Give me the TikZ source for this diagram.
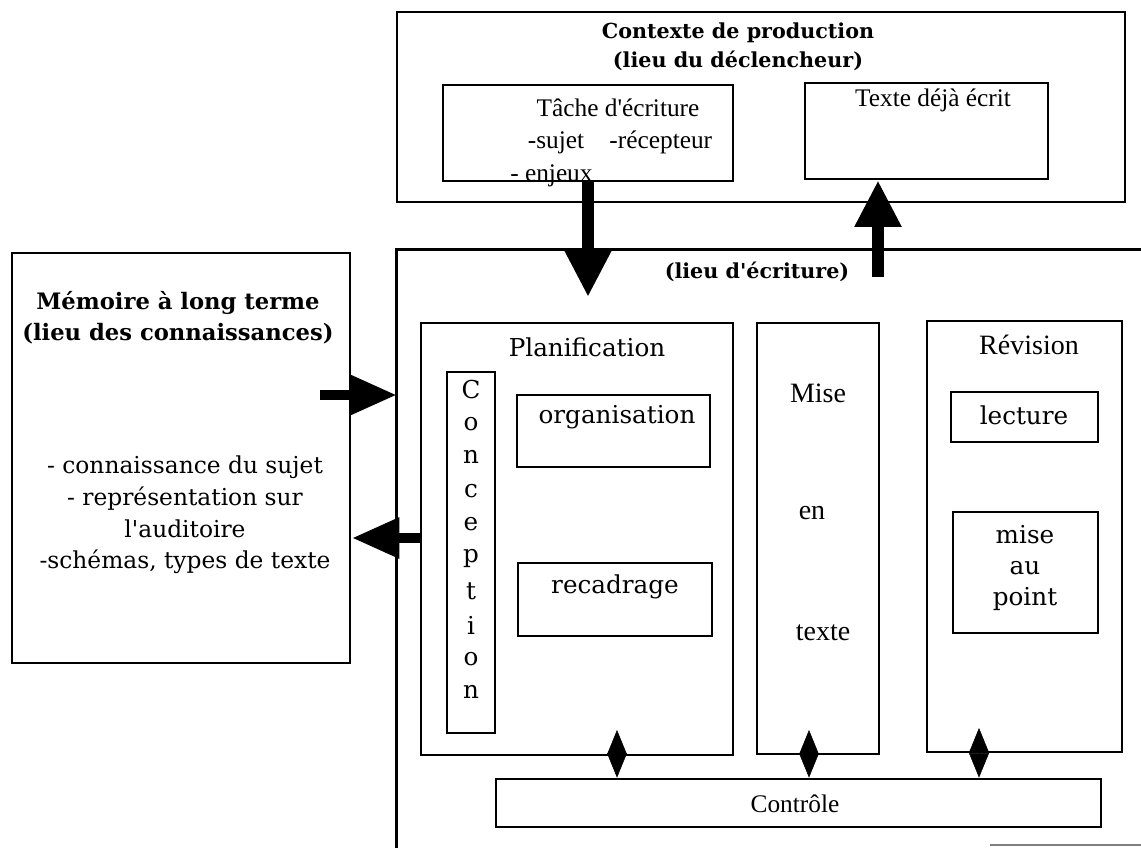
\documentclass[tikz,border=0pt]{standalone}
\usepackage{fontspec}
\setmainfont{Liberation Serif}
\newfontfamily\wideserif{DejaVu Serif}
\usetikzlibrary{arrows.meta,fit}
\tikzset{
  box/.style={
    draw,
    rectangle,
    line width=2pt,
    inner sep=0pt
  },
  lbl/.style={font=\fontsize{19}{23}\selectfont, inner sep=0pt},
  biglbl/.style={font=\fontsize{21}{25}\selectfont, inner sep=0pt},
  wlbl/.style={font=\wideserif\fontsize{18.5}{23.6}\selectfont, inner sep=0pt},
  ttl/.style={
    font=\wideserif\bfseries\fontsize{15.5}{21.75}\selectfont,
    align=center,
    inner sep=0pt
  },
  bigarrow/.style={line width=9.5pt, -{Triangle[length=35pt,width=33pt]}},
  sidearrow/.style={line width=7.5pt, -{Triangle[length=35.5pt,width=29pt]}},
  link/.style={
    line width=0.4pt,
    {Triangle[length=18.5pt,width=15pt]}-{Triangle[length=18.5pt,width=15pt]}
  }
}

\begin{document}
\begin{tikzpicture}[x=0.75pt, y=-0.75pt]
  \useasboundingbox (0,0) rectangle (1141,848);

  % contexte de production
  \node[box, fit={(397,12) (1125,202)}] (ctx) {};
  \node[ttl] (ctxtitle) at (738,47) {Contexte de production\\(lieu du déclencheur)};
  \node[box, fit={(443,85) (733,181)}] (tache) {};
  \node[lbl] (tachetitle) at (618,108) {Tâche d\textquotesingle écriture};
  \node[lbl] (tachelist) at (620,142) {-sujet\hspace{1em}-récepteur};
  \node[lbl, anchor=west] (enjeux) at (510,176) {- enjeux};
  \node[box, fit={(805,83) (1048,179)}] (texte) {};
  \node[lbl] (textetitle) at (933,100) {Texte déjà écrit};

  % memoire a long terme
  \node[box, fit={(12,253) (350,663)}] (mem) {};
  \node[ttl, font=\wideserif\bfseries\fontsize{17}{23.25}\selectfont] (memtitle) at (178,318)
    {Mémoire à long terme\\(lieu des connaissances)};
  \node[wlbl, align=center, font=\wideserif\fontsize{17.5}{23.8}\selectfont] (memlist) at (185,515)
    {- connaissance du sujet\\- représentation sur\\l'auditoire\\-schémas, types de texte};

  % lieu d'ecriture
  \node[fit={(397,250) (1170,880)}, inner sep=0pt] (ecr) {};
  \draw[line width=2pt] (ecr.south west) -- (ecr.north west) -- (ecr.north east);
  \node[ttl] (ecrtitle) at (757,272) {(lieu d'écriture)};
  \draw[line width=1pt, gray] (990,845) -- (1141,845);

  % planification
  \node[box, fit={(421,323) (733,755)}] (plan) {};
  \node[wlbl] (plantitle) at (587,347) {Planification};
  \node[box, fit={(447,372) (495,733)}] (conc) {};
  \foreach \l [count=\i from 0] in {C,o,n,c,e,p,t,i,o,n}
    \node[wlbl] (conc\i) at (471,390+33.6*\i) {\l};
  \node[box, fit={(517,395) (710,467)}] (orga) {};
  \node[wlbl] (orgatext) at (617,417) {organisation};
  \node[box, fit={(518,563) (712,636)}] (reca) {};
  \node[wlbl] (recatext) at (615,587) {recadrage};

  % mise en texte
  \node[box, fit={(757,323) (879,754)}] (mise) {};
  \node[biglbl] (mise1) at (818,393) {Mise};
  \node[biglbl] (mise2) at (812,513) {en};
  \node[biglbl] (mise3) at (823,633) {texte};

  % revision
  \node[box, fit={(927,321) (1122,752)}] (rev) {};
  \node[biglbl] (revtitle) at (1029,345) {Révision};
  \node[box, fit={(951,392) (1098,442)}] (lect) {};
  \node[wlbl] (lecttext) at (1024,415) {lecture};
  \node[box, fit={(953,512) (1098,633)}] (map) {};
  \node[wlbl, align=center] (maptext) at (1025,568) {mise\\au\\point};

  % controle
  \node[box, fit={(496,779) (1101,827)}] (ctrl) {};
  \node[lbl] (ctrltext) at (795,804) {Contrôle};

  % fleches
  \coordinate (dn) at (588,297);
  \coordinate (up) at (878,277);
  \coordinate (rin) at (320,395);
  \coordinate (lout) at (352,538);
  \draw[bigarrow] (tache.south -| dn) -- (dn);
  \draw[bigarrow] (up) -- (up |- texte.south);
  \draw[sidearrow] (rin) -- (rin -| ecr.west);
  \draw[sidearrow] (lout -| plan.west) -- (lout);

  \coordinate (d1) at (617,730);
  \coordinate (d2) at (809,730);
  \coordinate (d3) at (979,728);
  \draw[link] (d1) -- (d1 |- ctrl.north);
  \draw[link] (d2) -- (d2 |- ctrl.north);
  \draw[link] (d3) -- (d3 |- ctrl.north);
\end{tikzpicture}
\end{document}
